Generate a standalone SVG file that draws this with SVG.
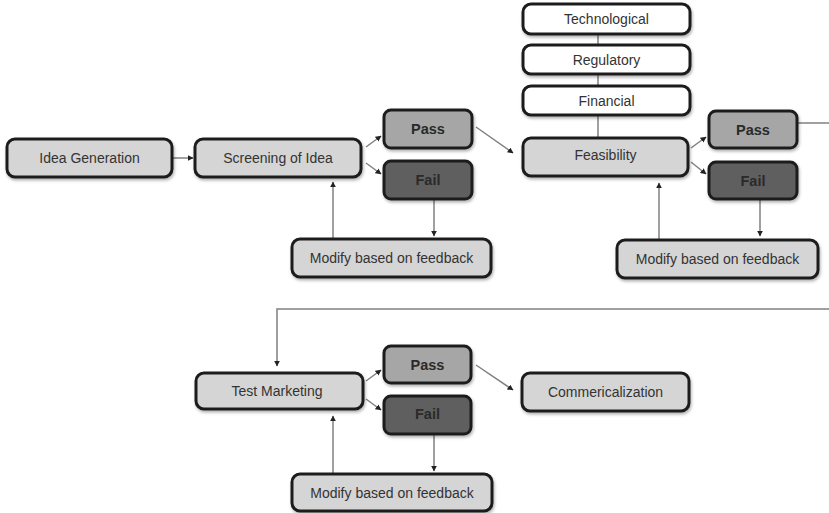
<svg xmlns="http://www.w3.org/2000/svg" width="829" height="513" viewBox="0 0 829 513">
<style>
.box{stroke:#1e1e1e;stroke-width:3;filter:url(#sh)}
.lt{fill:#d5d5d5}
.wh{fill:#ffffff}
.ps{fill:#a6a6a6}
.fl{fill:#5f5f5f}
text{font-family:"Liberation Sans","Open Sans",sans-serif;font-size:14px;fill:#333;text-anchor:middle;dominant-baseline:central}
.b{font-weight:bold;font-size:14.5px;fill:#2a2a2a}
.c{stroke:#808080;stroke-width:1.5;fill:none}
.ca{stroke:#808080;stroke-width:1.5;fill:none;marker-end:url(#ah)}
</style>
<defs>
<marker id="ah" viewBox="0 0 10 10" refX="9" refY="5" markerWidth="6" markerHeight="6" orient="auto" markerUnits="userSpaceOnUse">
<path d="M0,0 L10,5 L0,10 z" fill="#222"/>
</marker>
<filter id="sh" x="-10%" y="-20%" width="120%" height="150%">
<feDropShadow dx="1" dy="2" stdDeviation="1.5" flood-color="#000" flood-opacity="0.3"/>
</filter>
</defs>
<g id="connectors">
<line class="ca" x1="173" y1="158" x2="193" y2="158"/>
<line class="ca" x1="366" y1="147" x2="381" y2="136"/>
<line class="ca" x1="366" y1="163" x2="381" y2="174"/>
<line class="ca" x1="434" y1="200" x2="434" y2="236"/>
<line class="ca" x1="333" y1="238" x2="333" y2="182"/>
<line class="ca" x1="476" y1="127" x2="513" y2="153"/>
<line class="c" x1="598" y1="34" x2="598" y2="138"/>
<line class="ca" x1="691" y1="148" x2="706" y2="137"/>
<line class="ca" x1="691" y1="162" x2="706" y2="174"/>
<line class="ca" x1="760" y1="200" x2="760" y2="236"/>
<line class="ca" x1="659" y1="239" x2="659" y2="183"/>
<line class="c" x1="798" y1="123" x2="829" y2="123"/>
<polyline class="ca" points="829,309 277,309 277,366"/>
<line class="ca" x1="366" y1="381" x2="381" y2="370"/>
<line class="ca" x1="366" y1="399" x2="381" y2="410"/>
<line class="ca" x1="434" y1="435" x2="434" y2="471"/>
<line class="ca" x1="333" y1="473" x2="333" y2="416"/>
<line class="ca" x1="476" y1="365" x2="513" y2="390"/>
</g>
<g id="idea"><rect class="box lt" x="7" y="139" width="165" height="38" rx="8"/><text x="89.5" y="158">Idea Generation</text></g>
<g id="screening"><rect class="box lt" x="195" y="139" width="166" height="38" rx="8"/><text x="278" y="158">Screening of Idea</text></g>
<g id="pass1"><rect class="box ps" x="384" y="110" width="88" height="38" rx="7"/><text class="b" x="428" y="129">Pass</text></g>
<g id="fail1"><rect class="box fl" x="384" y="161" width="88" height="38" rx="7"/><text class="b" x="428" y="180">Fail</text></g>
<g id="modify1"><rect class="box lt" x="292" y="239" width="199" height="38" rx="8"/><text x="391.5" y="258">Modify based on feedback</text></g>
<g id="technological"><rect class="box wh" x="523" y="4" width="167" height="30" rx="8"/><text x="606.5" y="19">Technological</text></g>
<g id="regulatory"><rect class="box wh" x="523" y="45" width="167" height="29" rx="8"/><text x="606.5" y="59.5">Regulatory</text></g>
<g id="financial"><rect class="box wh" x="523" y="86" width="167" height="29" rx="8"/><text x="606.5" y="100.5">Financial</text></g>
<g id="feasibility"><rect class="box lt" x="523" y="138" width="165" height="38" rx="8"/><text x="605.5" y="155">Feasibility</text></g>
<g id="pass2"><rect class="box ps" x="709" y="111" width="88" height="37" rx="7"/><text class="b" x="753" y="129.5">Pass</text></g>
<g id="fail2"><rect class="box fl" x="709" y="162" width="88" height="37" rx="7"/><text class="b" x="753" y="180.5">Fail</text></g>
<g id="modify2"><rect class="box lt" x="617" y="240" width="201" height="38" rx="8"/><text x="717.5" y="259">Modify based on feedback</text></g>
<g id="testmarketing"><rect class="box lt" x="196" y="373" width="167" height="36" rx="8"/><text x="277" y="391">Test Marketing</text></g>
<g id="pass3"><rect class="box ps" x="384" y="346" width="87" height="37" rx="7"/><text class="b" x="427.5" y="364.5">Pass</text></g>
<g id="fail3"><rect class="box fl" x="384" y="396" width="87" height="38" rx="7"/><text class="b" x="427.5" y="414">Fail</text></g>
<g id="modify3"><rect class="box lt" x="292" y="474" width="200" height="37" rx="8"/><text x="392" y="492.5">Modify based on feedback</text></g>
<g id="commercialization"><rect class="box lt" x="522" y="373" width="167" height="38" rx="8"/><text x="605.5" y="392">Commericalization</text></g>
</svg>
